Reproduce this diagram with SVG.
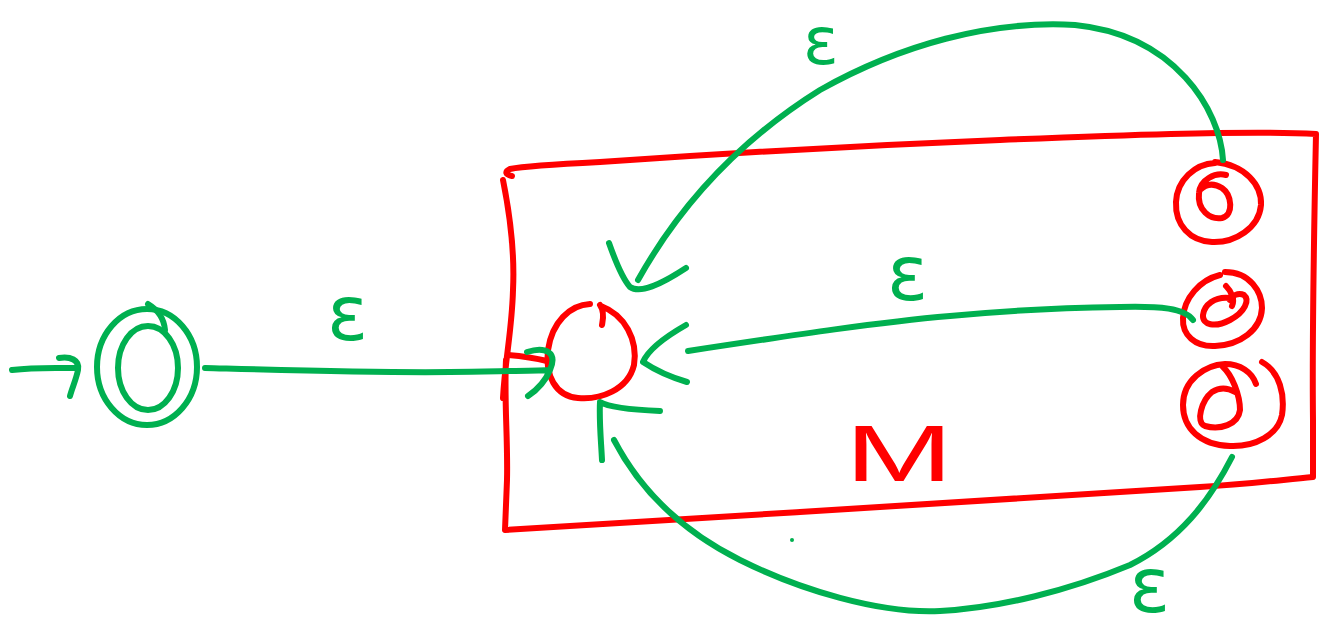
<svg xmlns="http://www.w3.org/2000/svg" width="1320" height="629" viewBox="0 0 1320 629">
<style>
.g{fill:none;stroke:#00b050;stroke-width:6;stroke-linecap:round;stroke-linejoin:round}
.r{fill:none;stroke:#ff0000;stroke-width:6;stroke-linecap:round;stroke-linejoin:round}
.eps{font-family:"DejaVu Sans","Liberation Sans",sans-serif;font-size:76px;fill:#00b050}
.lbl{font-family:"Liberation Sans",sans-serif;font-size:80px;fill:#ff0000}
</style>
<rect width="1320" height="629" fill="#ffffff"/>
<g id="machine-box">
<path class="r" d="M503,180 C510,215 515,250 513,290 C512,330 505,360 503,398 M506,360 C504,400 508,440 507,480 L505,530 C600,525 700,518 800,512 C950,502 1100,493 1200,487 C1250,484 1280,480 1313,477 L1313,420 C1312,330 1314,230 1316,134 C1250,130 1100,136 1000,140 C850,146 700,155 600,162 C560,164 520,167 510,169 C504,172 506,175 512,176"/>
<path class="r" d="M508,355 C520,356 535,358 547,361"/>
<text class="lbl" x="845" y="481" textLength="108" lengthAdjust="spacingAndGlyphs">M</text>
</g>
<g id="start-state">
<ellipse class="g" cx="147" cy="367" rx="50" ry="58"/>
<ellipse class="g" cx="148" cy="368" rx="30" ry="42"/>
<path class="g" d="M148,304 C158,310 164,318 165,330"/>
</g>
<g id="q0">
<path class="r" d="M601,306 C625,315 638,340 634,365 C628,390 600,400 578,398 C555,396 545,375 548,350 C552,322 570,305 590,304 M600,305 C605,312 603,320 602,325"/>
</g>
<g id="final-1">
<path class="r" d="M1215,162 C1245,165 1262,185 1261,205 C1259,228 1235,243 1212,242 C1190,241 1175,225 1176,202 C1177,180 1195,164 1215,163"/>
<path class="r" d="M1226,175 C1215,172 1200,180 1199,193 C1197,210 1210,220 1222,218 C1234,215 1232,195 1222,188 C1212,182 1205,185 1200,190"/>
</g>
<g id="final-2">
<path class="r" d="M1225,272 C1250,272 1262,292 1262,308 C1261,330 1240,345 1215,346 C1195,347 1182,335 1183,318 C1184,298 1200,280 1220,275"/>
<path class="r" d="M1226,286 C1232,292 1235,300 1232,306 M1230,298 C1215,296 1204,305 1203,315 C1202,325 1215,328 1230,320 C1245,312 1250,300 1244,295 C1238,292 1232,296 1230,300"/>
</g>
<g id="final-3">
<path class="r" d="M1262,362 C1280,372 1285,395 1282,415 C1278,435 1255,447 1230,446 C1200,445 1183,428 1183,405 C1183,380 1205,365 1225,364 C1240,364 1252,372 1256,384"/>
<path class="r" d="M1223,367 C1232,375 1240,395 1240,410 C1238,425 1220,430 1205,426 C1195,422 1202,400 1212,392 C1220,387 1228,388 1235,392"/>
</g>
<g id="connectors">
<path class="g" d="M12,370 C35,367 55,368 76,368 M59,358 C70,356 80,360 78,370 C76,380 72,388 70,396"/>
<path class="g" d="M205,368 C280,370 380,373 450,372 C500,371 530,371 549,370 M527,352 C545,346 558,352 550,370 C545,382 537,390 528,396"/>
<path class="g" d="M1223,160 C1220,110 1175,35 1075,25 C990,20 900,45 820,90 C740,140 680,205 638,280 M609,243 C615,260 622,278 630,287 C640,294 660,285 686,268"/>
<path class="g" d="M1193,320 C1185,308 1160,306 1120,307 C1050,308 990,312 950,316 C880,322 800,334 688,351 M686,325 C665,337 648,350 643,362 C655,370 670,377 687,382"/>
<path class="g" d="M1232,457 C1210,500 1180,540 1130,565 C1070,590 1000,608 940,611 C880,614 800,590 740,560 C680,530 640,490 614,440 M602,460 C601,440 599,420 600,402 C610,408 635,410 660,411"/>
<circle cx="792" cy="540" r="2" fill="#00b050"/>
</g>
<g id="labels">
<text class="eps" x="327" y="340">ε</text>
<text class="eps" x="803" y="64" style="font-size:66px">ε</text>
<text class="eps" x="887" y="300">ε</text>
<text class="eps" x="1129" y="612">ε</text>
</g>
</svg>
